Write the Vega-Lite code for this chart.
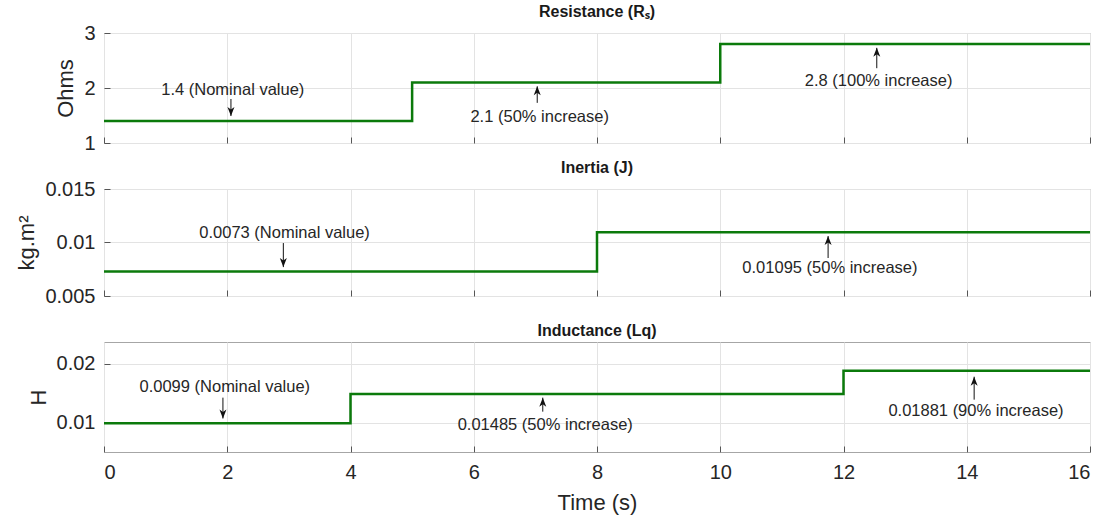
{
  "$schema": "https://vega.github.io/schema/vega-lite/v6.json",
  "background": "white",
  "padding": {"left": 15, "top": 3, "right": 12, "bottom": 5},
  "spacing": 46,
  "bounds": "flush",
  "config": {
    "font": "Liberation Sans",
    "view": {"stroke": "#a6a6a6", "strokeWidth": 1},
    "axis": {
      "labelFont": "Liberation Sans",
      "titleFont": "Liberation Sans",
      "labelFontSize": 20,
      "titleFontSize": 22,
      "titleFontWeight": "normal",
      "labelColor": "#262626",
      "titleColor": "#262626",
      "gridColor": "#e3e3e3",
      "gridWidth": 1,
      "domain": false,
      "tickColor": "#555555",
      "tickSize": -6,
      "labelPadding": 15,
      "titlePadding": 6
    },
    "title": {"font": "Liberation Sans", "fontSize": 16, "fontWeight": "bold", "color": "#1a1a1a", "offset": 3}
  },
  "datasets": {
    "rs": [{"t": 0, "v": 1.4}, {"t": 5, "v": 2.1}, {"t": 10, "v": 2.8}, {"t": 16, "v": 2.8}],
    "jj": [{"t": 0, "v": 0.0073}, {"t": 8, "v": 0.01095}, {"t": 16, "v": 0.01095}],
    "lq": [{"t": 0, "v": 0.0099}, {"t": 4, "v": 0.01485}, {"t": 12, "v": 0.01881}, {"t": 16, "v": 0.01881}],
    "rs_ann": [
      {"tx": 2.09, "ty": 1.96, "label": "1.4 (Nominal value)", "ax": 2.06, "tail": 1.80, "tip": 1.49, "dir": "down"},
      {"tx": 7.07, "ty": 1.47, "label": "2.1 (50% increase)", "ax": 7.03, "tail": 1.73, "tip": 2.03, "dir": "up"},
      {"tx": 12.57, "ty": 2.13, "label": "2.8 (100% increase)", "ax": 12.54, "tail": 2.36, "tip": 2.73, "dir": "up"}
    ],
    "jj_ann": [
      {"tx": 2.93, "ty": 0.01089, "label": "0.0073 (Nominal value)", "ax": 2.91, "tail": 0.00995, "tip": 0.0077, "dir": "down"},
      {"tx": 11.78, "ty": 0.00762, "label": "0.01095 (50% increase)", "ax": 11.75, "tail": 0.00855, "tip": 0.0106, "dir": "up"}
    ],
    "lq_ann": [
      {"tx": 1.96, "ty": 0.0161, "label": "0.0099 (Nominal value)", "ax": 1.93, "tail": 0.01424, "tip": 0.0107, "dir": "down"},
      {"tx": 7.16, "ty": 0.00966, "label": "0.01485 (50% increase)", "ax": 7.12, "tail": 0.01186, "tip": 0.01424, "dir": "up"},
      {"tx": 14.15, "ty": 0.01203, "label": "0.01881 (90% increase)", "ax": 14.12, "tail": 0.0139, "tip": 0.0178, "dir": "up"}
    ]
  },
  "vconcat": [
    {
      "title": "Resistance (Rₛ)",
      "width": 986,
      "height": 110,
      "layer": [
        {
          "data": {"name": "rs"},
          "mark": {"type": "line", "interpolate": "step-after", "color": "#0b7a0b", "strokeWidth": 2.5},
          "encoding": {
            "x": {"field": "t", "type": "quantitative", "scale": {"domain": [0, 16], "nice": false}, "axis": {"values": [0, 2, 4, 6, 8, 10, 12, 14, 16], "format": "~g", "labels": false, "title": null}},
            "y": {"field": "v", "type": "quantitative", "scale": {"domain": [1, 3], "nice": false, "zero": false}, "axis": {"values": [1, 2, 3], "format": "~g", "title": "Ohms"}}
          }
        },
        {
          "data": {"name": "rs_ann"},
          "layer": [
            {"mark": {"type": "rule", "color": "#111111", "strokeWidth": 1}, "encoding": {"x": {"field": "ax", "type": "quantitative", "axis": {"values": [0, 2, 4, 6, 8, 10, 12, 14, 16], "format": "~g", "labels": false, "title": null}}, "y": {"field": "tail", "type": "quantitative", "axis": {"values": [1, 2, 3], "format": "~g", "title": "Ohms"}}, "y2": {"field": "tip"}}},
            {"mark": {"type": "point", "filled": true, "size": 100, "color": "#111111", "opacity": 1}, "encoding": {"x": {"field": "ax", "type": "quantitative", "axis": {"values": [0, 2, 4, 6, 8, 10, 12, 14, 16], "format": "~g", "labels": false, "title": null}}, "y": {"field": "tip", "type": "quantitative", "axis": {"values": [1, 2, 3], "format": "~g", "title": "Ohms"}}, "shape": {"field": "dir", "type": "nominal", "scale": {"domain": ["up", "down"], "range": ["M0,0L0.7,1.8L0,1.3L-0.7,1.8Z", "M0,0L0.7,-1.8L0,-1.3L-0.7,-1.8Z"]}, "legend": null}}},
            {"mark": {"type": "text", "font": "Liberation Sans", "fontSize": 16.5, "color": "#262626", "align": "center", "baseline": "middle"}, "encoding": {"x": {"field": "tx", "type": "quantitative", "axis": {"values": [0, 2, 4, 6, 8, 10, 12, 14, 16], "format": "~g", "labels": false, "title": null}}, "y": {"field": "ty", "type": "quantitative", "axis": {"values": [1, 2, 3], "format": "~g", "title": "Ohms"}}, "text": {"field": "label"}}}
          ]
        }
      ]
    },
    {
      "title": "Inertia (J)",
      "width": 986,
      "height": 107,
      "layer": [
        {
          "data": {"name": "jj"},
          "mark": {"type": "line", "interpolate": "step-after", "color": "#0b7a0b", "strokeWidth": 2.5},
          "encoding": {
            "x": {"field": "t", "type": "quantitative", "scale": {"domain": [0, 16], "nice": false}, "axis": {"values": [0, 2, 4, 6, 8, 10, 12, 14, 16], "format": "~g", "labels": false, "title": null}},
            "y": {"field": "v", "type": "quantitative", "scale": {"domain": [0.005, 0.015], "nice": false, "zero": false}, "axis": {"values": [0.005, 0.01, 0.015], "format": ".3~g", "title": "kg.m²"}}
          }
        },
        {
          "data": {"name": "jj_ann"},
          "layer": [
            {"mark": {"type": "rule", "color": "#111111", "strokeWidth": 1}, "encoding": {"x": {"field": "ax", "type": "quantitative", "axis": {"values": [0, 2, 4, 6, 8, 10, 12, 14, 16], "format": "~g", "labels": false, "title": null}}, "y": {"field": "tail", "type": "quantitative", "axis": {"values": [0.005, 0.01, 0.015], "format": ".3~g", "title": "kg.m²"}}, "y2": {"field": "tip"}}},
            {"mark": {"type": "point", "filled": true, "size": 100, "color": "#111111", "opacity": 1}, "encoding": {"x": {"field": "ax", "type": "quantitative", "axis": {"values": [0, 2, 4, 6, 8, 10, 12, 14, 16], "format": "~g", "labels": false, "title": null}}, "y": {"field": "tip", "type": "quantitative", "axis": {"values": [0.005, 0.01, 0.015], "format": ".3~g", "title": "kg.m²"}}, "shape": {"field": "dir", "type": "nominal", "scale": {"domain": ["up", "down"], "range": ["M0,0L0.7,1.8L0,1.3L-0.7,1.8Z", "M0,0L0.7,-1.8L0,-1.3L-0.7,-1.8Z"]}, "legend": null}}},
            {"mark": {"type": "text", "font": "Liberation Sans", "fontSize": 16.5, "color": "#262626", "align": "center", "baseline": "middle"}, "encoding": {"x": {"field": "tx", "type": "quantitative", "axis": {"values": [0, 2, 4, 6, 8, 10, 12, 14, 16], "format": "~g", "labels": false, "title": null}}, "y": {"field": "ty", "type": "quantitative", "axis": {"values": [0.005, 0.01, 0.015], "format": ".3~g", "title": "kg.m²"}}, "text": {"field": "label"}}}
          ]
        }
      ]
    },
    {
      "title": "Inductance (Lq)",
      "width": 986,
      "height": 110,
      "layer": [
        {
          "data": {"name": "lq"},
          "mark": {"type": "line", "interpolate": "step-after", "color": "#0b7a0b", "strokeWidth": 2.5},
          "encoding": {
            "x": {"field": "t", "type": "quantitative", "scale": {"domain": [0, 16], "nice": false}, "axis": {"values": [0, 2, 4, 6, 8, 10, 12, 14, 16], "format": "~g", "title": "Time (s)", "labelPadding": 16, "titlePadding": 10}},
            "y": {"field": "v", "type": "quantitative", "scale": {"domain": [0.005, 0.0237], "nice": false, "zero": false}, "axis": {"values": [0.01, 0.02], "format": ".3~g", "title": "H"}}
          }
        },
        {
          "data": {"name": "lq_ann"},
          "layer": [
            {"mark": {"type": "rule", "color": "#111111", "strokeWidth": 1}, "encoding": {"x": {"field": "ax", "type": "quantitative", "axis": {"values": [0, 2, 4, 6, 8, 10, 12, 14, 16], "format": "~g", "title": "Time (s)", "labelPadding": 16, "titlePadding": 10}}, "y": {"field": "tail", "type": "quantitative", "axis": {"values": [0.01, 0.02], "format": ".3~g", "title": "H"}}, "y2": {"field": "tip"}}},
            {"mark": {"type": "point", "filled": true, "size": 100, "color": "#111111", "opacity": 1}, "encoding": {"x": {"field": "ax", "type": "quantitative", "axis": {"values": [0, 2, 4, 6, 8, 10, 12, 14, 16], "format": "~g", "title": "Time (s)", "labelPadding": 16, "titlePadding": 10}}, "y": {"field": "tip", "type": "quantitative", "axis": {"values": [0.01, 0.02], "format": ".3~g", "title": "H"}}, "shape": {"field": "dir", "type": "nominal", "scale": {"domain": ["up", "down"], "range": ["M0,0L0.7,1.8L0,1.3L-0.7,1.8Z", "M0,0L0.7,-1.8L0,-1.3L-0.7,-1.8Z"]}, "legend": null}}},
            {"mark": {"type": "text", "font": "Liberation Sans", "fontSize": 16.5, "color": "#262626", "align": "center", "baseline": "middle"}, "encoding": {"x": {"field": "tx", "type": "quantitative", "axis": {"values": [0, 2, 4, 6, 8, 10, 12, 14, 16], "format": "~g", "title": "Time (s)", "labelPadding": 16, "titlePadding": 10}}, "y": {"field": "ty", "type": "quantitative", "axis": {"values": [0.01, 0.02], "format": ".3~g", "title": "H"}}, "text": {"field": "label"}}}
          ]
        }
      ]
    }
  ]
}
